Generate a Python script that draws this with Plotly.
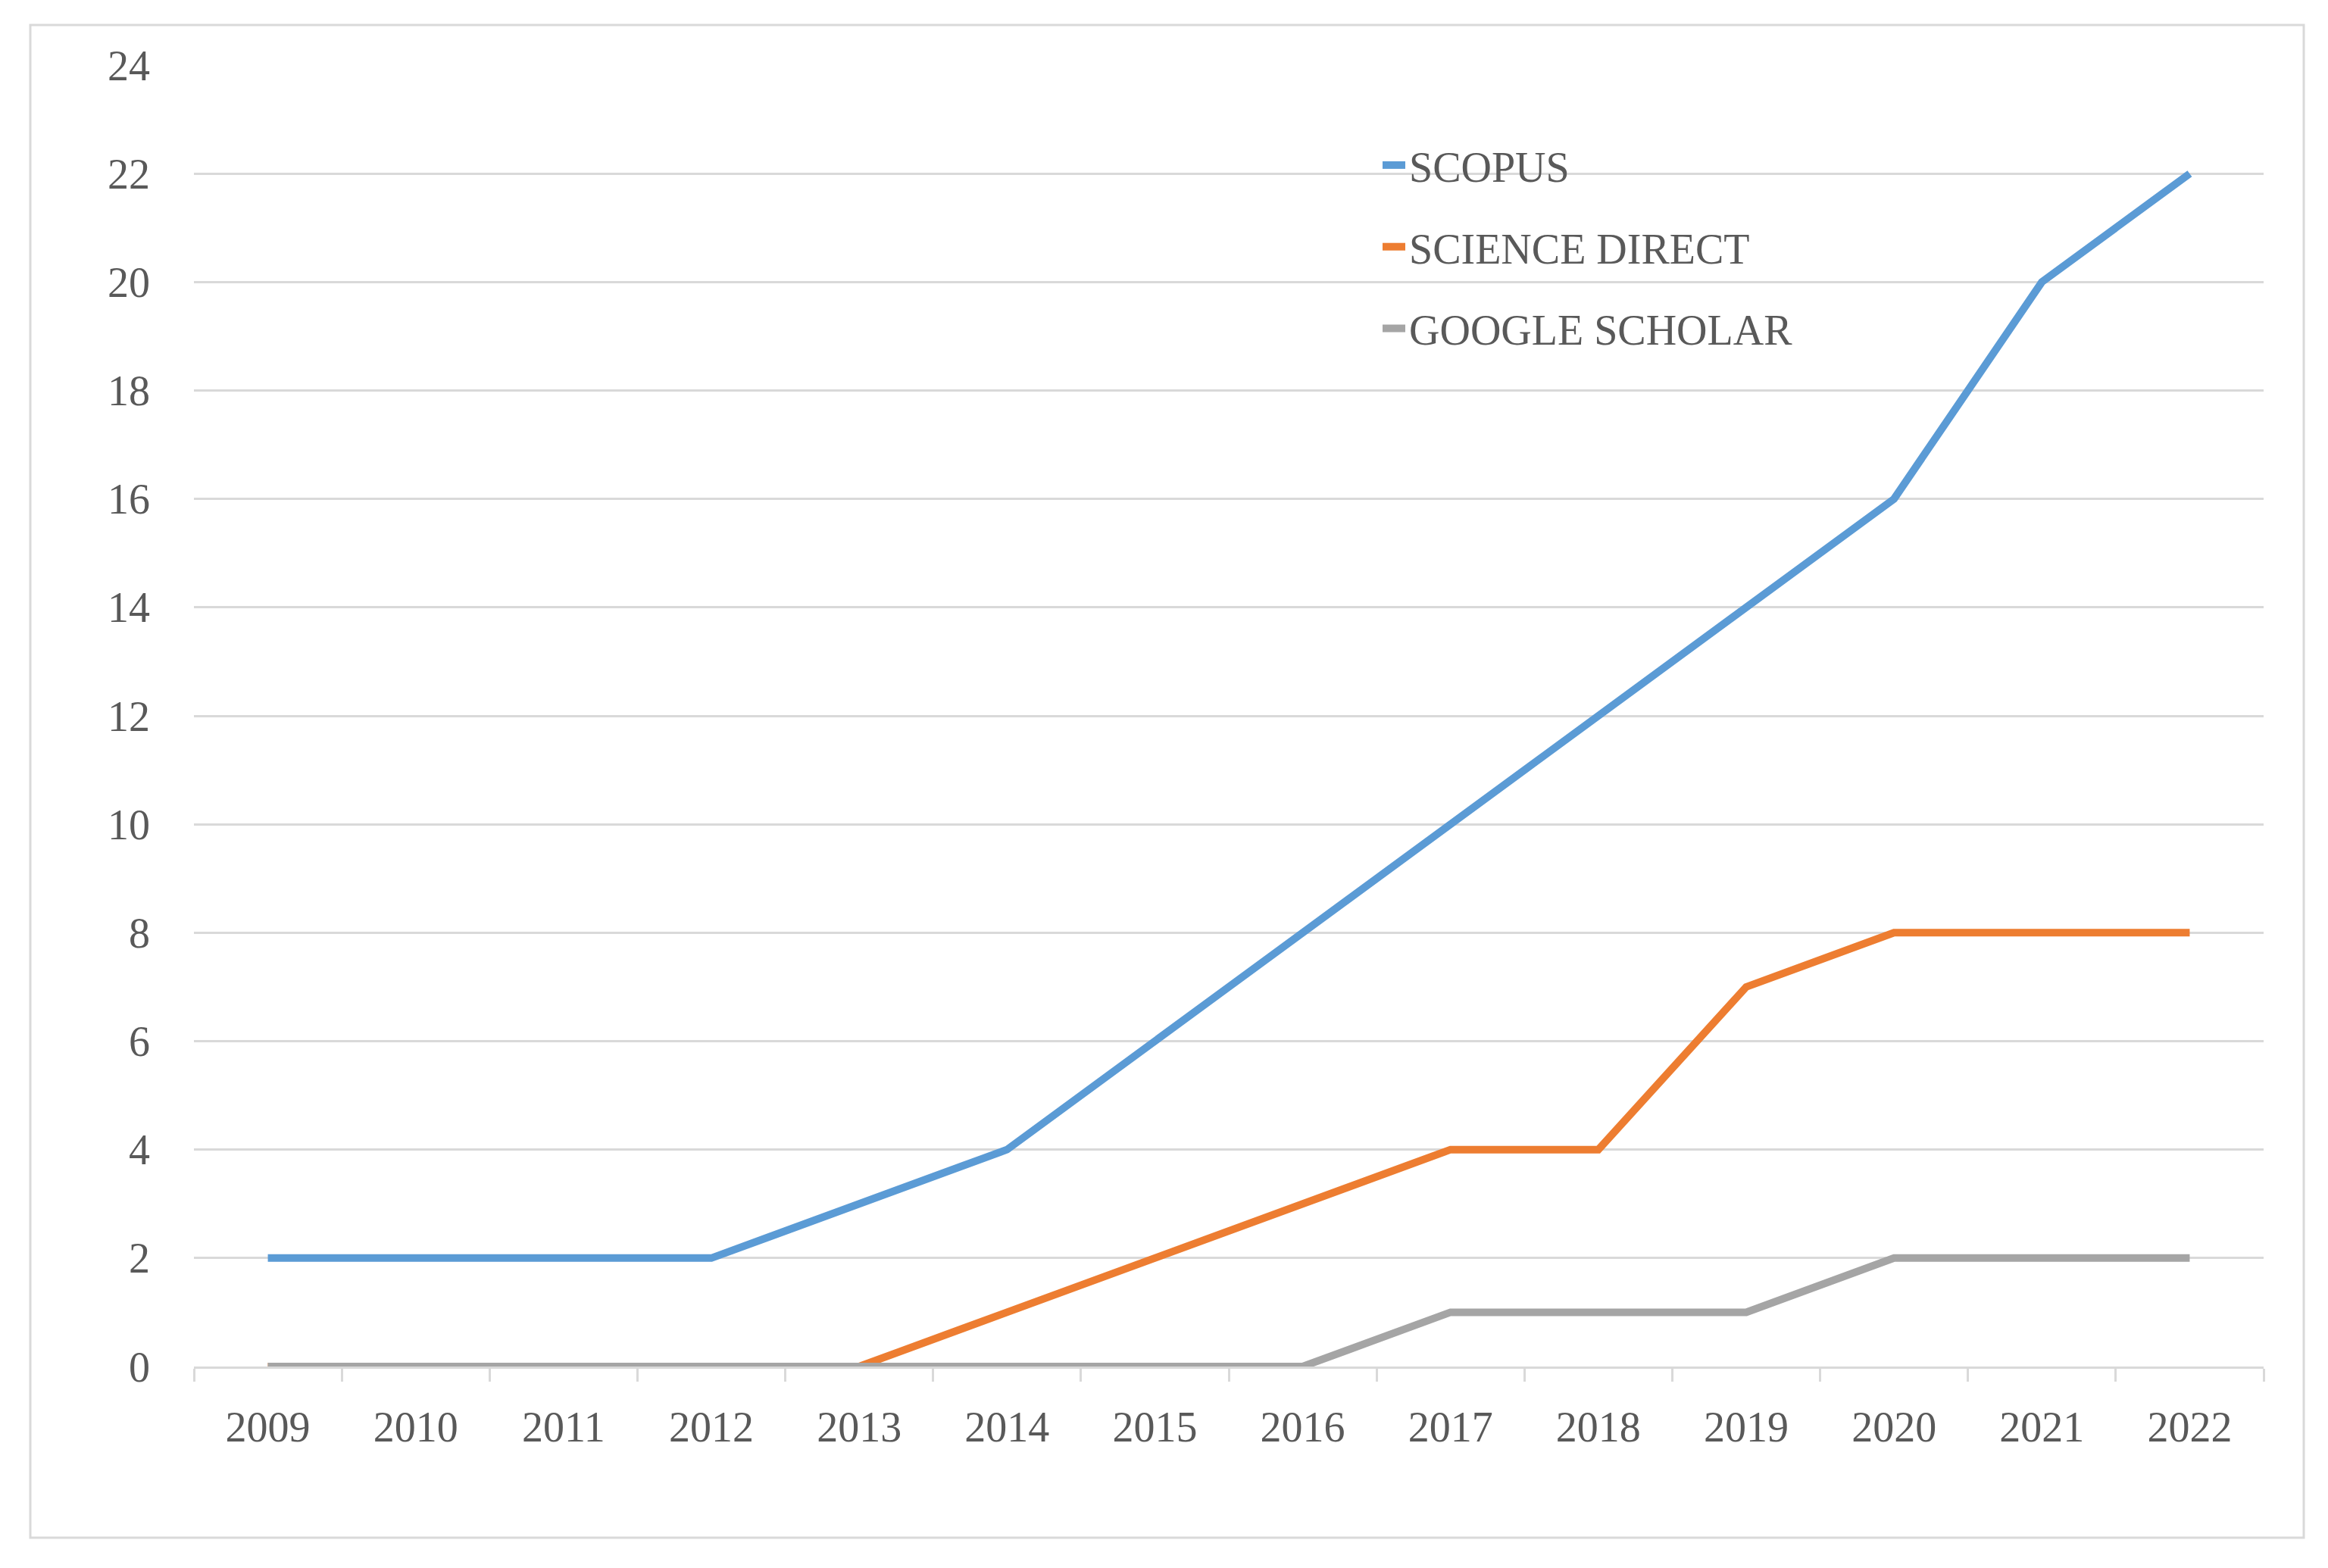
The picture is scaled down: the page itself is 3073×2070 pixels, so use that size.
import plotly.graph_objects as go

years = ["2009", "2010", "2011", "2012", "2013", "2014", "2015",
         "2016", "2017", "2018", "2019", "2020", "2021", "2022"]
scopus = [2, 2, 2, 2, 3, 4, 6, 8, 10, 12, 14, 16, 20, 22]
science_direct = [0, 0, 0, 0, 0, 1, 2, 3, 4, 4, 7, 8, 8, 8]
google_scholar = [0, 0, 0, 0, 0, 0, 0, 0, 1, 1, 1, 2, 2, 2]
y_ticks = list(range(0, 25, 2))

series_names = ["SCOPUS", "SCIENCE DIRECT", "GOOGLE SCHOLAR"]
series_values = [scopus, science_direct, google_scholar]
series_colors = ["#5B9BD5", "#ED7D31", "#A5A5A5"]

W, H = 3073, 2070
OFF = 8  # page body margin
# plot area in page pixels
PX0, PX1, PY0, PY1 = 256, 2988, 86, 1804
L = PX0 - OFF
T = PY0 - OFF
R = W - (PX1 - OFF)
B = H - (PY1 - OFF)
FONT = "Liberation Serif"
TXT = "#595959"
GRID = "#D9D9D9"

fig = go.Figure()
for name, vals, col in zip(series_names, series_values, series_colors):
    fig.add_trace(go.Scatter(
        x=years, y=vals, name=name, mode="lines",
        line=dict(color=col, width=10),
        cliponaxis=False, legendgroup=name,
    ))

pw = PX1 - PX0
ph = PY1 - PY0

def px_x(p):
    return (p - PX0) / pw

def px_y(p):
    return (PY1 - p) / ph

fig.add_shape(type="rect", xref="paper", yref="paper",
              x0=px_x(40), x1=px_x(3041), y0=px_y(2030), y1=px_y(33),
              line=dict(color=GRID, width=3), fillcolor="rgba(0,0,0,0)",
              layer="below")

fig.update_layout(
    width=W, height=H,
    margin=dict(l=L, r=R, t=T, b=B, autoexpand=False),
    paper_bgcolor="white", plot_bgcolor="white",
    font=dict(family=FONT, size=56, color=TXT),
    showlegend=True,
    legend=dict(
        x=px_x(1820), y=px_y(175), xanchor="left", yanchor="top",
        bgcolor="rgba(0,0,0,0)", borderwidth=0,
        font=dict(family=FONT, size=56, color=TXT),
        tracegroupgap=32, traceorder="grouped",
    ),
    xaxis=dict(
        type="category", categoryorder="array", categoryarray=years,
        range=[-0.5, 13.5],
        showgrid=False, showline=True, linecolor=GRID, linewidth=3,
        ticks="outside", tickson="boundaries", ticklen=17, tickwidth=3,
        tickcolor=GRID, ticklabelstandoff=29,
        tickfont=dict(family=FONT, size=56, color=TXT),
        zeroline=False, fixedrange=True,
    ),
    yaxis=dict(
        range=[0, 24], tickvals=y_ticks, ticktext=[str(v) for v in y_ticks],
        showgrid=True, gridcolor=GRID, gridwidth=3,
        showline=False, zeroline=False, ticks="",
        ticklabelstandoff=57,
        tickfont=dict(family=FONT, size=56, color=TXT),
    ),
)

fig.write_html("out.html")
